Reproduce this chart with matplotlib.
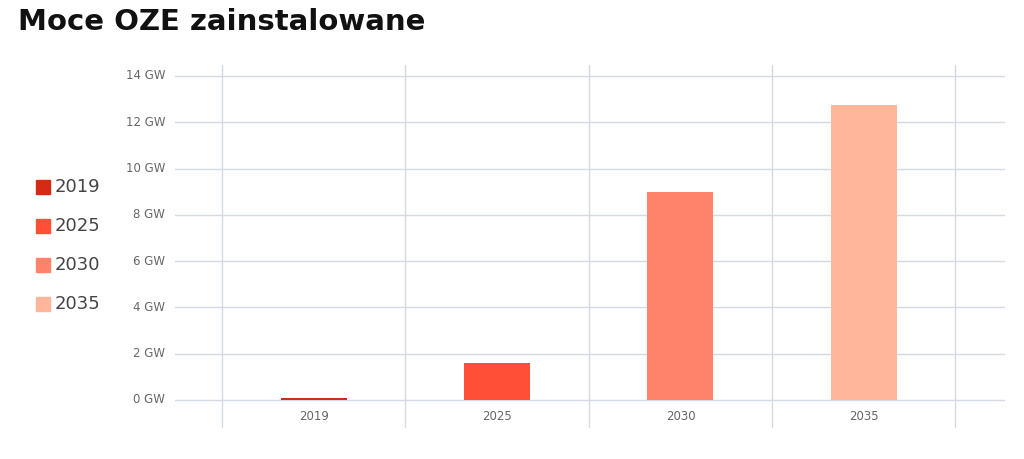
import matplotlib.pyplot as plt

years = ["2019", "2025", "2030", "2035"]
capacity_gw = [0.08, 1.6, 9.0, 12.75]
colors = ["#d62a14", "#ff4f36", "#ff826a", "#ffb69a"]
y_ticks = [0, 2, 4, 6, 8, 10, 12, 14]

fig = plt.figure(figsize=(10.24, 4.59), dpi=100)
fig.text(18 / 1024, 1 - 22 / 459, "Moce OZE zainstalowane", fontsize=21,
         fontweight="bold", va="center", ha="left", color="#111111")

ax = fig.add_axes([175 / 1024, 1 - 428 / 459, 830 / 1024, 363 / 459])
x = range(len(years))
ax.bar(x, capacity_gw, width=0.36, color=colors, zorder=3)

ax.set_xlim(-0.757, 3.77)
ax.set_ylim(-1.21, 14.475)
for g in [-0.5, 0.5, 1.5, 2.5, 3.5]:
    ax.axvline(g, color="#d5dae2", lw=1, zorder=1)
for t in y_ticks:
    ax.axhline(t, color="#d5dae2", lw=1, zorder=1)
    ax.text(-0.81, t, f"{t} GW", ha="right", va="center", fontsize=8.5,
            color="#666666")
for i, yr in enumerate(years):
    ax.text(i, -0.72, yr, ha="center", va="center", fontsize=8.5, color="#666666")

for s in ax.spines.values():
    s.set_visible(False)
ax.set_xticks([])
ax.set_yticks([])

# legend
for i, (yr, c) in enumerate(zip(years, colors)):
    yp = 1 - (187 + i * 39) / 459
    fig.patches.append(plt.Rectangle((36 / 1024, yp - 7 / 459), 14 / 1024, 14 / 459,
                                     transform=fig.transFigure, color=c))
    fig.text(55 / 1024, yp, yr, fontsize=13, va="center", ha="left", color="#444444")

plt.savefig("out.png", dpi=100)
